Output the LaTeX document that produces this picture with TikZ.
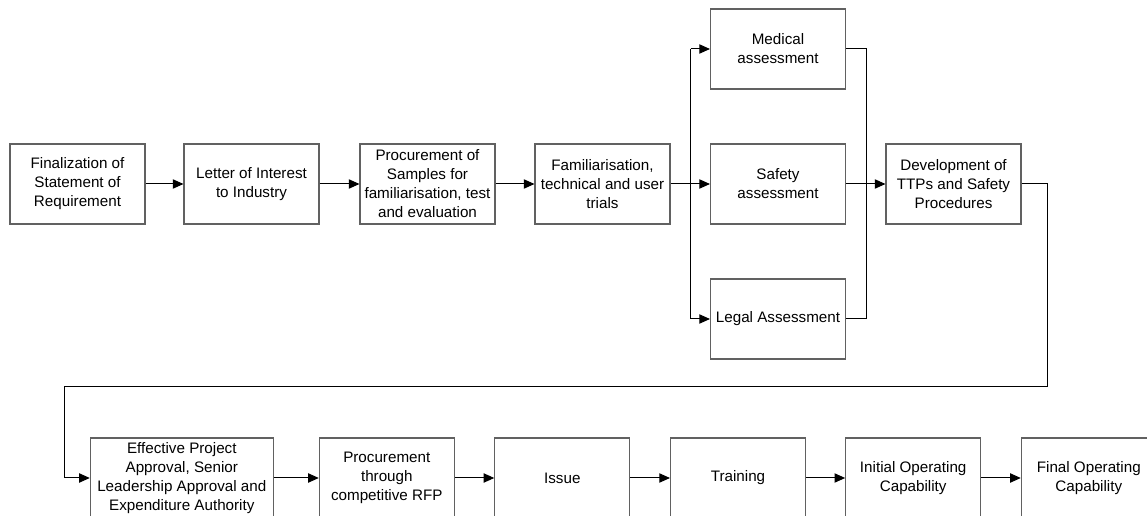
\documentclass[tikz,border=0pt]{standalone}
\usepackage{fontspec}
\setmainfont{Liberation Sans}
\usetikzlibrary{arrows.meta}
\begin{document}
\begin{tikzpicture}[x=0.75pt,y=-0.75pt,
  box/.style={draw=black!62,line width=0.8pt,minimum width=101.25pt,minimum height=60pt,inner sep=0pt,
    align=center,font=\fontsize{11.4}{14.25}\selectfont},
  widebox/.style={box,minimum width=137.25pt},
  conn/.style={draw=black,line width=0.75pt},
  arr/.style={conn,-{Triangle[length=8pt,width=7pt]}}]
\useasboundingbox (0,0) rectangle (1147,516);
\clip (0,0) rectangle (1147,516);
% row 1
\node[box] (b1) at (77.5,184) {Finalization of\\Statement of\\Requirement};
\node[box] (b2) at (251.5,184) {Letter of Interest\\to Industry};
\node[box] (b3) at (427.5,184) {Procurement of\\Samples for\\familiarisation, test\\and evaluation};
\node[box] (b4) at (602.5,184) {Familiarisation,\\technical and user\\trials};
\node[box] (med) at (778,49) {Medical\\assessment};
\node[box] (saf) at (778,184) {Safety\\assessment};
\node[box] (leg) at (778,319) {Legal Assessment};
\node[box] (dev) at (953.5,184) {Development of\\TTPs and Safety\\Procedures};
% row 2
\node[widebox] (eff) at (181.8,478) {Effective Project\\Approval, Senior\\Leadership Approval and\\Expenditure Authority};
\node[box] (proc) at (386.8,478) {Procurement\\through\\competitive RFP};
\node[box] (iss) at (562.3,478) {Issue};
\node[box] (trn) at (738,478) {Training};
\node[box] (ioc) at (913.2,478) {Initial Operating\\Capability};
\node[box] (foc) at (1088.8,478) {Final Operating\\Capability};
% coordinates
\coordinate (br) at (690.5,184);
\coordinate (mg) at (866,184);
\coordinate (r1) at (1047,184);
\coordinate (r2) at (1047,386.5);
\coordinate (l1) at (64.5,386.5);
% connectors row 1
\draw[arr] (b1) -- (b2);
\draw[arr] (b2) -- (b3);
\draw[arr] (b3) -- (b4);
\draw[arr] (b4) -- (saf);
\draw[arr] (br |- med) -- (med);
\draw[arr] (br |- leg) -- (leg);
\draw[conn] (br |- med) -- (br |- leg);
\draw[conn] (med.east) -- (mg |- med) -- (mg |- leg) -- (leg.east);
\draw[arr] (saf) -- (dev);
% loop to row 2
\draw[arr] (dev.east) -- (r1) -- (r2) -- (l1) -- (l1 |- eff) -- (eff);
% connectors row 2
\draw[arr] (eff) -- (proc);
\draw[arr] (proc) -- (iss);
\draw[arr] (iss) -- (trn);
\draw[arr] (trn) -- (ioc);
\draw[arr] (ioc) -- (foc);
\end{tikzpicture}
\end{document}
